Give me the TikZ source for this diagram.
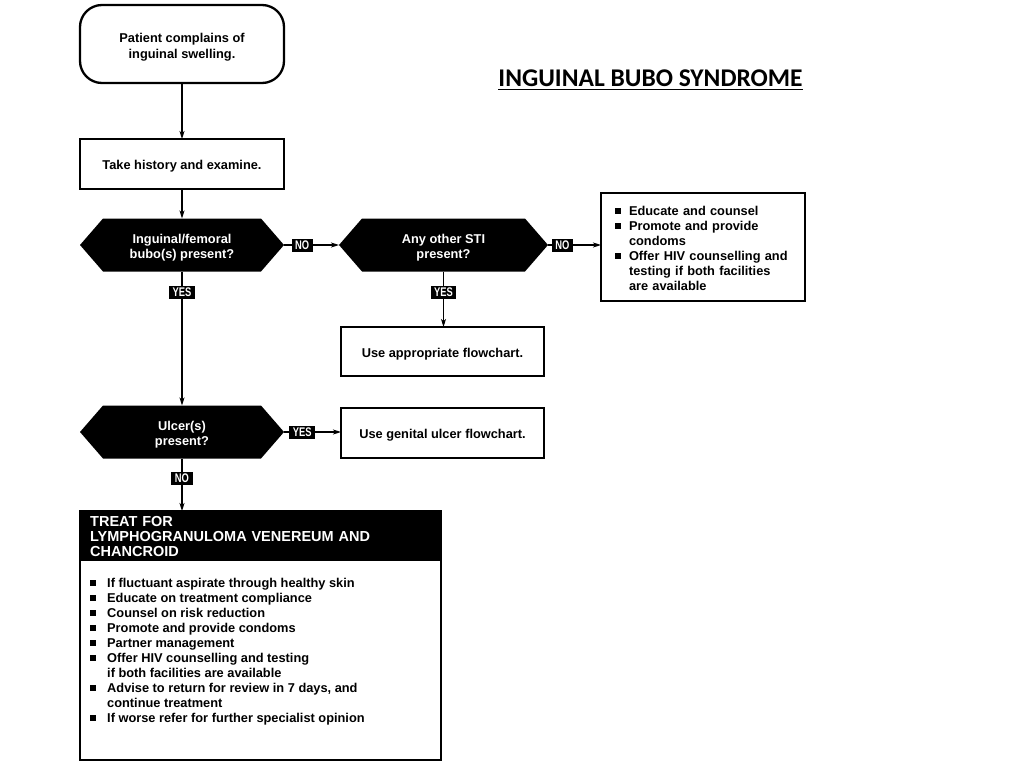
\documentclass[tikz,border=0pt]{standalone}
\usepackage{fontspec}
\setmainfont{Liberation Sans}
\newfontfamily\tagf{Liberation Sans}[FakeStretch=0.75]
\newfontfamily\titlef{Carlito}
\usetikzlibrary{arrows.meta,backgrounds}
\newcommand{\bul}{\rule[1pt]{6pt}{6pt}}
\newcommand{\dn}{\rule{0pt}{14.5pt}}
\tikzset{
  conn/.style={line width=1.1pt, -{Stealth[length=8pt,width=5pt,inset=2pt]}},
  boxst/.style={draw, line width=1.9pt, fill=white, align=center, inner sep=0pt, outer sep=0pt,
     font=\bfseries\fontsize{12.8}{15}\selectfont},
  hexst/.style={text=white, align=center, inner sep=0pt, outer sep=0pt,
     minimum width=204pt, minimum height=53pt, font=\bfseries\fontsize{12.8}{15}\selectfont},
  tagst/.style={fill=black, text=white, inner xsep=3.5pt, inner ysep=1pt, minimum height=13pt,
     font=\tagf\bfseries\fontsize{12.5}{12.5}\selectfont},
}
\begin{document}
\begin{tikzpicture}[x=1pt,y=-1pt]
\useasboundingbox (0,0) rectangle (1024,768);

% title
\node[inner sep=0pt, anchor=base, font=\titlef\bfseries\fontsize{25.5}{25.5}\selectfont] (title) at (650.5,86) {INGUINAL BUBO SYNDROME};
\draw[line width=1.6pt] ([yshift=-3.5pt]title.base west) -- ([yshift=-3.5pt]title.base east);

% nodes
\node[boxst, line width=2.3pt, rounded corners=22pt, minimum width=204pt, minimum height=78pt,
      font=\bfseries\fontsize{12.8}{16}\selectfont] (start) at (182,44) {\rule{0pt}{16pt}Patient complains of\\inguinal swelling.};
\node[boxst, minimum width=204pt, minimum height=50pt] (hist) at (182,164) {\dn Take history and examine.};
\node[hexst] (d1) at (182,245) {\rule{0pt}{15pt}Inguinal/femoral\\bubo(s) present?};
\node[hexst, minimum width=209pt] (d2) at (443.5,245) {\rule{0pt}{15pt}Any other STI\\present?};
\node[boxst, minimum height=108pt, inner xsep=14pt, text width=176pt, align=left] (info) at (703,247) {%
  \begin{tabular}{@{}p{14pt}@{}l@{}}
  \rule{0pt}{15.5pt}\bul & Educate and counsel\\
  \bul & Promote and provide\\
       & condoms\\
  \bul & Offer HIV counselling and\\
       & testing if both facilities\\
       & are available
  \end{tabular}};
\node[boxst, minimum width=203pt, minimum height=49pt] (app) at (442.5,351.5) {\rule{0pt}{15pt}Use appropriate flowchart.};
\node[hexst] (d3) at (182,432) {\rule{0pt}{15pt}Ulcer(s)\\present?};
\node[boxst, minimum width=203pt, minimum height=50pt] (ulcer) at (442.5,433) {\dn Use genital ulcer flowchart.};

% treatment box
\node[draw, line width=1.9pt, minimum width=361pt, minimum height=249pt, inner sep=0pt, outer sep=0pt, anchor=north west] (treat) at (80,511) {};
\node[fill=black, text=white, minimum width=361pt, minimum height=50pt, inner xsep=10pt, inner ysep=0pt,
      text width=341pt, align=left, anchor=north west, font=\bfseries\fontsize{14.5}{15}\selectfont] (treathead) at (80,511)
  {TREAT FOR\\LYMPHOGRANULOMA VENEREUM AND\\CHANCROID};
\node[inner sep=0pt, anchor=base west, font=\bfseries\fontsize{12.8}{15}\selectfont] (treatlist) at (90,587) {%
  \begin{tabular}[t]{@{}p{17pt}@{}l@{}}
  \bul & If fluctuant aspirate through healthy skin\\
  \bul & Educate on treatment compliance\\
  \bul & Counsel on risk reduction\\
  \bul & Promote and provide condoms\\
  \bul & Partner management\\
  \bul & Offer HIV counselling and testing\\
       & if both facilities are available\\
  \bul & Advise to return for review in 7 days, and\\
       & continue treatment\\
  \bul & If worse refer for further specialist opinion
  \end{tabular}};

% background and hexagon shapes
\begin{scope}[on background layer]
\fill[white] (0,0) rectangle (1024,768);
\foreach \n in {d1,d2,d3}
  \fill[black] (\n.west) -- ([xshift=23pt]\n.north west) -- ([xshift=-23pt]\n.north east) -- (\n.east)
        -- ([xshift=-23pt]\n.south east) -- ([xshift=23pt]\n.south west) -- cycle;
\end{scope}

% connectors
\draw[conn] (start.south) -- (hist.north);
\draw[conn] (hist.south) -- (d1.north);
\draw[conn] (d1.east) -- node[tagst, pos=0.33] (no1) {NO} (d2.west);
\draw[conn] (d2.east) -- node[tagst, pos=0.27] (no2) {NO} (info.west |- d2.east);
\draw[conn] (d1.south) -- node[tagst, pos=0.156] (yes1) {YES} (d3.north);
\draw[conn] (d2.south) -- node[tagst, pos=0.375] (yes2) {YES} (d2.south |- app.north);
\draw[conn] (d3.east) -- node[tagst, pos=0.32] (yes3) {YES} (ulcer.west |- d3.east);
\draw[conn] (d3.south) -- node[tagst, pos=0.38] (no3) {NO} (d3.south |- treat.north);
\end{tikzpicture}
\end{document}
